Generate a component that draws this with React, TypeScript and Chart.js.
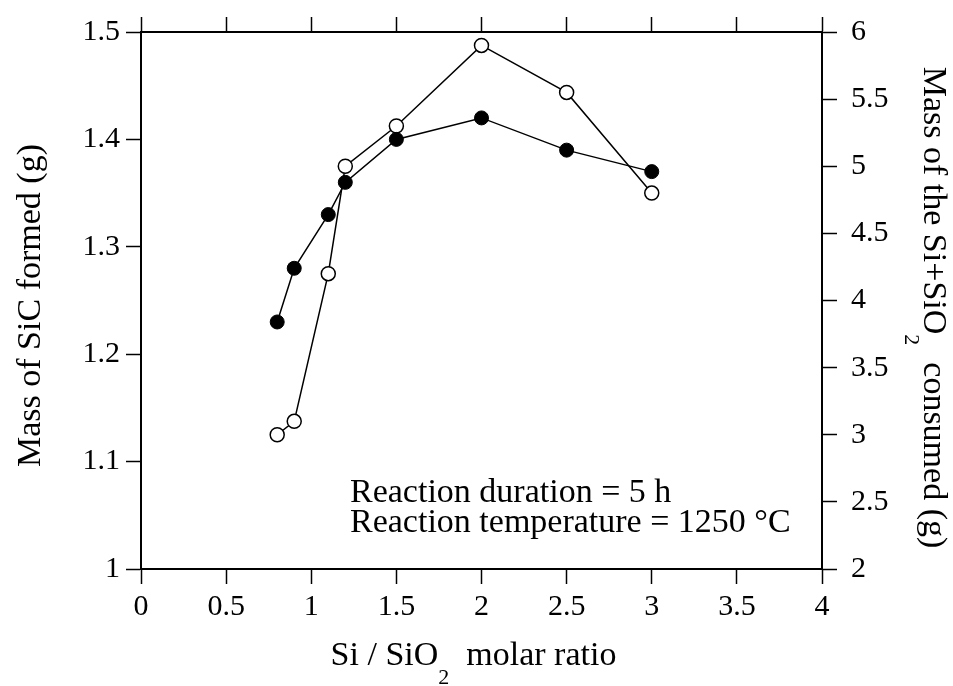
import React, { useEffect, useRef } from "react";
import { Chart, registerables } from "chart.js";

Chart.register(...registerables);

// Si / SiO2 molar ratio of the starting mixture
const molarRatio = [0.8, 0.9, 1.1, 1.2, 1.5, 2.0, 2.5, 3.0];
// Mass of SiC formed (g), left axis
const sicFormed = [1.23, 1.28, 1.33, 1.36, 1.4, 1.42, 1.39, 1.37];
// Mass of Si + SiO2 consumed (g), right axis
const massConsumed = [3.0, 3.1, 4.2, 5.0, 5.3, 5.9, 5.55, 4.8];

const xTicks = [0, 0.5, 1, 1.5, 2, 2.5, 3, 3.5, 4];
const leftTicks = [1, 1.1, 1.2, 1.3, 1.4, 1.5];
const rightTicks = [2, 2.5, 3, 3.5, 4, 4.5, 5, 5.5, 6];

const noteLines = ["Reaction duration = 5 h", "Reaction temperature = 1250 °C"];

const FONT = "'Liberation Serif', 'Times New Roman', Times, serif";
const W = 953;
const H = 686;

type Piece = { text: string; sub?: boolean };

const xTitle: Piece[] = [{ text: "Si / SiO" }, { text: "2", sub: true }, { text: "  molar ratio" }];
const leftTitle: Piece[] = [{ text: "Mass of SiC formed (g)" }];
const rightTitle: Piece[] = [
  { text: "Mass of the Si+SiO" },
  { text: "2", sub: true },
  { text: "  consumed (g)" },
];

function drawPieces(
  ctx: CanvasRenderingContext2D,
  pieces: Piece[],
  size: number,
  subSize: number,
  subDrop: number
) {
  const widths = pieces.map((p) => {
    ctx.font = `${p.sub ? subSize : size}px ${FONT}`;
    return ctx.measureText(p.text).width;
  });
  const total = widths.reduce((a, b) => a + b, 0);
  let x = -total / 2;
  pieces.forEach((p, i) => {
    ctx.font = `${p.sub ? subSize : size}px ${FONT}`;
    ctx.fillText(p.text, x, p.sub ? subDrop : 0);
    x += widths[i];
  });
}

const textPlugin = {
  id: "figureText",
  afterDraw(chart: Chart) {
    const ctx = chart.ctx;
    const a = chart.chartArea;
    ctx.save();
    ctx.fillStyle = "#000";
    ctx.textAlign = "left";
    ctx.textBaseline = "alphabetic";

    // bottom axis title
    ctx.save();
    ctx.translate((a.left + a.right) / 2 - 8, a.bottom + 96);
    drawPieces(ctx, xTitle, 34, 22, 19);
    ctx.restore();

    // left axis title
    ctx.save();
    ctx.translate(40, (a.top + a.bottom) / 2 + 5);
    ctx.rotate(-Math.PI / 2);
    drawPieces(ctx, leftTitle, 34, 22, 19);
    ctx.restore();

    // right axis title
    ctx.save();
    ctx.translate(924, (a.top + a.bottom) / 2 + 7);
    ctx.rotate(Math.PI / 2);
    drawPieces(ctx, rightTitle, 34, 22, 19);
    ctx.restore();

    // reaction conditions note
    ctx.font = `34px ${FONT}`;
    noteLines.forEach((line, i) => {
      ctx.fillText(line, a.left + 209, a.top + 470 + i * 30);
    });
    ctx.restore();
  },
};

function fixedTicks(values: number[]) {
  return (scale: any) => {
    scale.ticks = values.map((v) => ({ value: v }));
  };
}

const axisLine = { display: true, color: "#000", width: 2 };
const tickMarks = {
  display: true,
  drawOnChartArea: false,
  drawTicks: true,
  tickLength: 15,
  tickWidth: 1.5,
  tickColor: "#000",
  color: "#000",
};
const tickFont = { family: FONT, size: 30 };

export default function App() {
  const canvasRef = useRef<HTMLCanvasElement | null>(null);

  useEffect(() => {
    if (!canvasRef.current) return;
    const chart = new Chart(canvasRef.current, {
      type: "scatter",
      data: {
        datasets: [
          {
            label: "Mass of SiC formed (g)",
            data: molarRatio.map((x, i) => ({ x, y: sicFormed[i] })),
            xAxisID: "x",
            yAxisID: "y",
            showLine: true,
            borderColor: "#000",
            borderWidth: 1.5,
            backgroundColor: "#000",
            pointBackgroundColor: "#000",
            pointBorderColor: "#000",
            pointBorderWidth: 1,
            pointRadius: 7,
            pointHoverRadius: 7,
          },
          {
            label: "Mass of the Si+SiO2 consumed (g)",
            data: molarRatio.map((x, i) => ({ x, y: massConsumed[i] })),
            xAxisID: "x",
            yAxisID: "y2",
            showLine: true,
            borderColor: "#000",
            borderWidth: 1.5,
            backgroundColor: "#fff",
            pointBackgroundColor: "#fff",
            pointBorderColor: "#000",
            pointBorderWidth: 1.5,
            pointRadius: 7,
            pointHoverRadius: 7,
          },
        ],
      },
      options: {
        responsive: false,
        animation: false,
        devicePixelRatio: 1,
        layout: { padding: 0 },
        plugins: {
          legend: { display: false },
          tooltip: { enabled: false },
          title: { display: false },
        },
        scales: {
          x: {
            type: "linear",
            position: "bottom",
            min: 0,
            max: 4,
            afterBuildTicks: fixedTicks(xTicks),
            afterFit: (s: any) => {
              s.height = 117;
            },
            ticks: { color: "#000", font: tickFont, padding: 5, callback: (v: any) => String(v), maxRotation: 0 },
            grid: tickMarks,
            border: axisLine,
          },
          x2: {
            type: "linear",
            position: "top",
            min: 0,
            max: 4,
            afterBuildTicks: fixedTicks(xTicks),
            afterFit: (s: any) => {
              s.height = 27;
            },
            ticks: { display: false },
            grid: tickMarks,
            border: axisLine,
          },
          y: {
            type: "linear",
            position: "left",
            min: 1,
            max: 1.5,
            afterBuildTicks: fixedTicks(leftTicks),
            afterFit: (s: any) => {
              s.width = 141;
            },
            ticks: { color: "#000", font: tickFont, padding: 6, callback: (v: any) => String(v) },
            grid: tickMarks,
            border: axisLine,
          },
          y2: {
            type: "linear",
            position: "right",
            min: 2,
            max: 6,
            afterBuildTicks: fixedTicks(rightTicks),
            afterFit: (s: any) => {
              s.width = W - 822;
            },
            ticks: { color: "#000", font: tickFont, padding: 14, callback: (v: any) => String(v) },
            grid: tickMarks,
            border: axisLine,
          },
        },
      },
      plugins: [textPlugin],
    });
    return () => chart.destroy();
  }, []);

  return (
    <div style={{ position: "fixed", left: 0, top: 0, width: W, height: H, background: "#fff" }}>
      <canvas ref={canvasRef} width={W} height={H} style={{ display: "block", width: W, height: H }} />
    </div>
  );
}
